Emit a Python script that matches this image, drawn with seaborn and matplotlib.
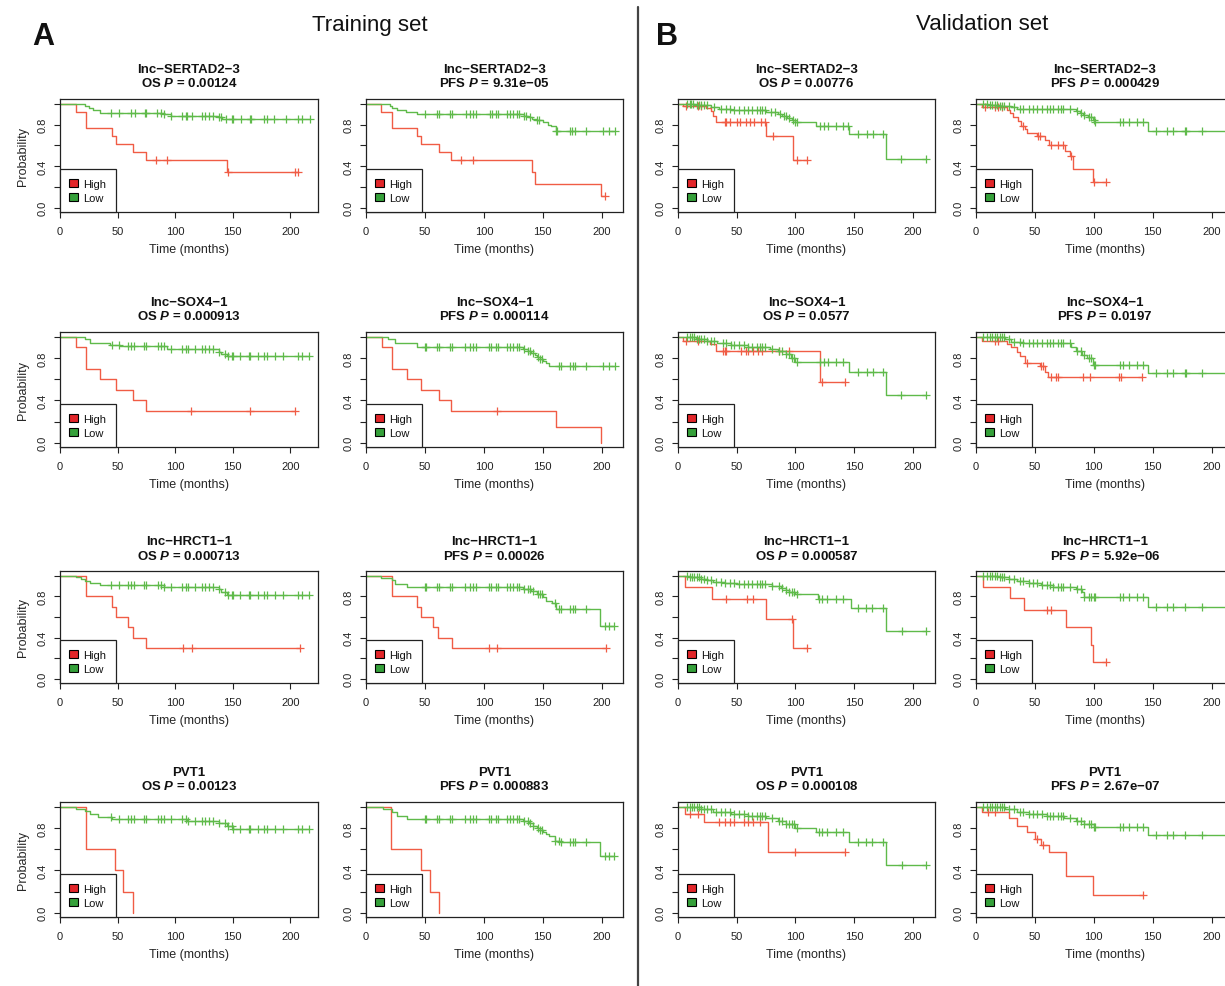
import numpy as np
import pandas as pd
import matplotlib
matplotlib.use("Agg")
import matplotlib.pyplot as plt
from matplotlib.patches import Patch
from matplotlib.lines import Line2D
import seaborn as sns

# ---------------- data ----------------
GENES = ["lnc\u2212SERTAD2\u22123", "lnc\u2212SOX4\u22121", "lnc\u2212HRCT1\u22121", "PVT1"]
ENDPOINTS = ["OS", "PFS", "OS", "PFS"]
PVALUES = [
    ["0.00124", "9.31e\u221205", "0.00776", "0.000429"],
    ["0.000913", "0.000114", "0.0577", "0.0197"],
    ["0.000713", "0.00026", "0.000587", "5.92e\u221206"],
    ["0.00123", "0.000883", "0.000108", "2.67e\u221207"],
]
X_TICKS = [0, 50, 100, 150, 200]
Y_TICKS = [0.0, 0.2, 0.4, 0.6, 0.8, 1.0]
Y_TICK_LABELS = ["0.0", "", "0.4", "", "0.8", ""]
GROUPS = ["High", "Low"]

# Row 1: lnc-SERTAD2-3
A1_HI_T = [14, 23, 45, 49, 63, 74.5, 145]
A1_HI_S = [0.923, 0.769, 0.692, 0.615, 0.538, 0.462, 0.346]
A1_HI_C = [83, 93, 146, 204, 207]
A1_LO_T = [22, 25, 29, 35, 90, 96, 138, 141]
A1_LO_S = [0.98, 0.96, 0.94, 0.91, 0.90, 0.885, 0.87, 0.85]
A1_LO_C = [44, 51, 62, 65, 74, 75, 84, 88, 90, 96, 106, 109, 110, 115, 123, 126, 129, 133,
           138, 140, 144, 149, 150, 157, 165, 166, 177, 180, 186, 196, 207, 210, 217]

A2_HI_T = [13, 22, 43.5, 46.5, 61.5, 72.5, 141, 143, 199]
A2_HI_S = [0.923, 0.769, 0.692, 0.615, 0.538, 0.462, 0.346, 0.231, 0.115]
A2_HI_C = [81, 90.5, 203]
A2_LO_T = [20, 22, 26, 34, 43, 134, 137, 141, 145, 150, 154, 157, 161]
A2_LO_S = [0.98, 0.96, 0.94, 0.92, 0.90, 0.885, 0.87, 0.855, 0.84, 0.82, 0.80, 0.785, 0.735]
A2_LO_C = [50, 60, 62, 71, 73, 85, 88, 90.5, 93, 105, 107, 110, 112, 120, 122, 124.5, 128, 130,
           134, 136, 139, 145, 147, 161, 162, 173, 175, 177, 187, 201, 206, 211]

B1_HI_T = [4, 24, 28, 30, 32.5, 75, 98]
B1_HI_S = [0.975, 0.955, 0.93, 0.88, 0.82, 0.69, 0.46]
B1_HI_C = [7, 17, 20, 40, 41, 44, 50, 53, 58, 61, 65, 71, 74, 81, 101, 110]
B1_LO_T = [15, 28, 35, 45, 75, 85, 89, 93, 97, 100, 118, 146, 177]
B1_LO_S = [0.985, 0.965, 0.95, 0.935, 0.92, 0.90, 0.88, 0.86, 0.84, 0.825, 0.785, 0.705, 0.465]
B1_LO_C = [8, 10, 11, 13, 16, 18, 20, 22, 25, 31, 37, 41, 44, 48, 52, 56, 60, 63, 67, 70, 72, 74,
           79, 83, 87, 90, 92, 95, 98, 100, 101, 121, 124, 128, 135, 141, 145, 153, 161, 166, 175,
           190, 211]

B2_HI_T = [5, 26, 29, 31.5, 36, 38.5, 41.5, 43, 52, 58.5, 62, 75.5, 80, 82, 99]
B2_HI_S = [0.97, 0.94, 0.91, 0.87, 0.83, 0.79, 0.755, 0.72, 0.69, 0.65, 0.60, 0.55, 0.50, 0.37, 0.25]
B2_HI_C = [8, 16, 19, 22, 40, 53, 54, 64, 70, 74, 81, 100, 110]
B2_LO_T = [10, 20, 30, 35, 85, 88, 91, 95, 99, 100.5, 146]
B2_LO_S = [0.985, 0.975, 0.965, 0.952, 0.93, 0.91, 0.89, 0.87, 0.845, 0.824, 0.735]
B2_LO_C = [6, 9, 12, 14, 16, 18, 20, 22, 24, 28, 32, 37, 40, 45, 48, 52, 56, 60, 63, 65, 70, 72,
           74, 80, 86, 89, 92, 96, 98, 100, 101, 122, 125, 130, 137, 142, 153, 162, 167, 177, 178,
           192, 215]

# Row 2: lnc-SOX4-1
A3_HI_T = [14, 23, 35, 49, 63, 74.5]
A3_HI_S = [0.9, 0.7, 0.6, 0.5, 0.4, 0.3]
A3_HI_C = [114, 165, 204]
A3_LO_T = [22, 26, 43, 52, 93, 138, 140, 145]
A3_LO_S = [0.98, 0.94, 0.925, 0.91, 0.885, 0.86, 0.84, 0.815]
A3_LO_C = [45, 51, 59, 62, 64, 73, 75, 85, 88, 90, 96, 106, 109, 111, 117, 123, 126, 129, 133,
           138, 143, 146, 149, 150, 156, 164, 165, 172, 177, 180, 187, 194, 207, 210, 216]

A4_HI_T = [13.3, 22, 34.5, 46.5, 61.5, 72.5, 161, 199.5]
A4_HI_S = [0.9, 0.7, 0.6, 0.5, 0.4, 0.3, 0.15, 0.0]
A4_HI_C = [111]
A4_LO_T = [19, 24.5, 43, 133.5, 137, 140, 143, 145, 148, 150, 153, 155]
A4_LO_S = [0.98, 0.94, 0.905, 0.885, 0.865, 0.85, 0.83, 0.81, 0.79, 0.77, 0.75, 0.728]
A4_LO_C = [50, 51, 60, 62, 71, 73, 84, 88, 90.5, 93, 104, 106, 110, 112, 120, 122, 124.5, 128,
           130, 134, 137, 139, 142, 146, 148, 149, 164, 165, 173, 176, 177, 187, 201, 206, 211]

B3_HI_T = [4.3, 27, 32.6, 120.6]
B3_HI_S = [0.96, 0.93, 0.865, 0.577]
B3_HI_C = [7, 17, 38, 40, 41, 54, 58, 60, 64, 68, 72, 86, 95, 123, 142]
B3_LO_T = [15, 25, 33, 45, 60, 78, 85, 92, 96, 100, 146, 177]
B3_LO_S = [0.98, 0.96, 0.94, 0.92, 0.90, 0.885, 0.87, 0.84, 0.80, 0.76, 0.67, 0.449]
B3_LO_C = [8, 10, 12, 14, 16, 18, 20, 22, 25, 28, 31, 38, 41, 45, 48, 52, 56, 60, 63, 67, 70, 72,
           74, 80, 86, 89, 92, 95, 97, 99, 101, 121, 124, 128, 135, 141, 153, 161, 166, 175, 190, 211]

B4_HI_T = [4.8, 26, 30, 34.5, 37, 41.6, 54, 58.6, 61]
B4_HI_S = [0.96, 0.93, 0.90, 0.86, 0.82, 0.756, 0.72, 0.67, 0.62]
B4_HI_C = [16, 19, 43, 55, 57, 64, 68, 70, 91, 97, 121, 123, 141]
B4_LO_T = [25, 30, 40, 81, 85, 89.7, 94, 99.6, 146]
B4_LO_S = [0.98, 0.955, 0.94, 0.90, 0.87, 0.83, 0.80, 0.737, 0.654]
B4_LO_C = [6, 9, 12, 14, 16, 18, 20, 22, 24, 28, 32, 37, 40, 45, 48, 52, 56, 60, 63, 65, 70, 72,
           74, 80, 86, 89, 92, 96, 98, 100, 101, 122, 125, 130, 137, 142, 153, 162, 167, 177, 178,
           192, 215]

# Row 3: lnc-HRCT1-1
A5_HI_T = [22.6, 45, 49, 58.8, 63, 74.5]
A5_HI_S = [0.8, 0.7, 0.6, 0.5, 0.4, 0.3]
A5_HI_C = [107, 114.5, 208.5]
A5_LO_T = [14, 18, 22, 26, 35, 90, 138, 140, 145]
A5_LO_S = [0.985, 0.97, 0.95, 0.93, 0.908, 0.89, 0.87, 0.845, 0.815]
A5_LO_C = [44, 51, 59, 62, 64, 73, 75, 85, 88, 90, 96, 106, 109, 111, 117, 123, 126, 129, 133,
           138, 143, 146, 149, 150, 156, 164, 165, 172, 177, 180, 187, 194, 207, 210, 216]

A6_HI_T = [21.8, 43.6, 46.4, 56.6, 61.4, 72.7]
A6_HI_S = [0.8, 0.7, 0.6, 0.5, 0.4, 0.3]
A6_HI_C = [104.7, 111, 203.7]
A6_LO_T = [13, 22, 24.6, 34.5, 133.5, 140, 145, 150, 153, 157.5, 161, 198.6]
A6_LO_S = [0.98, 0.96, 0.92, 0.89, 0.87, 0.85, 0.82, 0.79, 0.75, 0.735, 0.676, 0.508]
A6_LO_C = [50, 51, 60, 62, 71, 73, 84, 88, 90.5, 93, 104, 106, 110, 112, 120, 122, 124.5, 128,
           130, 134, 137, 139, 142, 146, 148, 149, 160, 164, 165, 173, 176, 177, 187, 203, 206, 210]

B5_HI_T = [5.7, 29, 75, 98.4]
B5_HI_S = [0.889, 0.771, 0.581, 0.295]
B5_HI_C = [41, 59, 64, 97, 110]
B5_LO_T = [10, 20, 25, 30, 40, 50, 80, 88, 92, 95, 100, 119, 147.5, 177]
B5_LO_S = [0.985, 0.97, 0.955, 0.94, 0.93, 0.922, 0.90, 0.88, 0.86, 0.84, 0.82, 0.775, 0.69, 0.46]
B5_LO_C = [8, 10, 12, 14, 16, 18, 20, 22, 25, 28, 32, 37, 40, 44, 48, 52, 56, 60, 63, 67, 70, 72,
           74, 80, 86, 89, 92, 95, 97, 99, 101, 120, 123, 127, 135, 141, 153, 160, 165, 175, 191, 211]

B6_HI_T = [6.2, 28.9, 41, 76, 97.3, 99]
B6_HI_S = [0.89, 0.78, 0.667, 0.50, 0.33, 0.165]
B6_HI_C = [60, 64, 110]
B6_LO_T = [20, 28, 35, 45, 55, 65, 85, 90, 92, 146]
B6_LO_S = [0.99, 0.97, 0.95, 0.93, 0.91, 0.89, 0.87, 0.84, 0.794, 0.698]
B6_LO_C = [6, 9, 12, 14, 16, 18, 20, 22, 24, 28, 32, 37, 40, 45, 48, 52, 56, 60, 63, 65, 70, 72,
           74, 80, 86, 89, 92, 96, 98, 100, 101, 122, 125, 130, 137, 142, 153, 162, 167, 177, 192, 215]

# Row 4: PVT1
A7_HI_T = [23, 48, 55, 63]
A7_HI_S = [0.6, 0.4, 0.2, 0.0]
A7_HI_C = []
A7_LO_T = [14, 22, 26, 33, 45, 110, 138, 145, 150]
A7_LO_S = [0.98, 0.96, 0.93, 0.90, 0.885, 0.87, 0.845, 0.815, 0.79]
A7_LO_C = [44, 51, 59, 62, 64, 73, 75, 85, 88, 90, 96, 106, 109, 111, 117, 123, 126, 129, 133,
           138, 143, 146, 149, 150, 156, 164, 165, 172, 177, 180, 187, 194, 207, 210, 216]

A8_HI_T = [21, 47, 54, 62]
A8_HI_S = [0.6, 0.4, 0.2, 0.0]
A8_HI_C = []
A8_LO_T = [14, 22, 26, 35, 133, 138, 142, 145, 148, 150, 153, 155, 160, 165, 198.6]
A8_LO_S = [0.98, 0.95, 0.91, 0.88, 0.865, 0.845, 0.82, 0.80, 0.78, 0.76, 0.74, 0.72, 0.68, 0.665, 0.54]
A8_LO_C = [50, 51, 60, 62, 71, 73, 84, 88, 90.5, 93, 104, 106, 110, 112, 120, 122, 124.5, 128,
           130, 134, 137, 139, 142, 146, 148, 149, 160, 164, 165, 173, 176, 177, 187, 203, 206, 210]

B7_HI_T = [6, 22, 76.6]
B7_HI_S = [0.93, 0.86, 0.575]
B7_HI_C = [10, 17, 35, 40, 44, 48, 56, 60, 64, 70, 100, 142]
B7_LO_T = [20, 30, 45, 60, 75, 85, 92, 100, 118, 146, 177]
B7_LO_S = [0.98, 0.955, 0.935, 0.915, 0.895, 0.87, 0.84, 0.80, 0.76, 0.67, 0.45]
B7_LO_C = [8, 10, 12, 14, 16, 18, 20, 22, 25, 28, 32, 37, 40, 44, 48, 52, 56, 60, 63, 67, 70, 72,
           74, 80, 86, 89, 92, 95, 97, 99, 101, 120, 123, 127, 135, 141, 153, 160, 165, 175, 191, 211]

B8_HI_T = [5, 28, 35, 43, 50, 55, 62, 76, 99]
B8_HI_S = [0.95, 0.89, 0.82, 0.76, 0.70, 0.64, 0.57, 0.35, 0.17]
B8_HI_C = [10, 16, 52, 57, 142]
B8_LO_T = [25, 35, 45, 60, 75, 85, 92, 100, 146]
B8_LO_S = [0.975, 0.955, 0.935, 0.915, 0.895, 0.87, 0.84, 0.81, 0.735]
B8_LO_C = [6, 9, 12, 14, 16, 18, 20, 22, 24, 28, 32, 37, 40, 45, 48, 52, 56, 60, 63, 65, 70, 72,
           74, 80, 86, 89, 92, 96, 98, 100, 101, 122, 125, 130, 137, 142, 153, 162, 167, 177, 192, 215]

# table of panels built from the arrays above: [row][col] -> (high, low)
PANELS = [
    [((A1_HI_T, A1_HI_S, A1_HI_C), (A1_LO_T, A1_LO_S, A1_LO_C)),
     ((A2_HI_T, A2_HI_S, A2_HI_C), (A2_LO_T, A2_LO_S, A2_LO_C)),
     ((B1_HI_T, B1_HI_S, B1_HI_C), (B1_LO_T, B1_LO_S, B1_LO_C)),
     ((B2_HI_T, B2_HI_S, B2_HI_C), (B2_LO_T, B2_LO_S, B2_LO_C))],
    [((A3_HI_T, A3_HI_S, A3_HI_C), (A3_LO_T, A3_LO_S, A3_LO_C)),
     ((A4_HI_T, A4_HI_S, A4_HI_C), (A4_LO_T, A4_LO_S, A4_LO_C)),
     ((B3_HI_T, B3_HI_S, B3_HI_C), (B3_LO_T, B3_LO_S, B3_LO_C)),
     ((B4_HI_T, B4_HI_S, B4_HI_C), (B4_LO_T, B4_LO_S, B4_LO_C))],
    [((A5_HI_T, A5_HI_S, A5_HI_C), (A5_LO_T, A5_LO_S, A5_LO_C)),
     ((A6_HI_T, A6_HI_S, A6_HI_C), (A6_LO_T, A6_LO_S, A6_LO_C)),
     ((B5_HI_T, B5_HI_S, B5_HI_C), (B5_LO_T, B5_LO_S, B5_LO_C)),
     ((B6_HI_T, B6_HI_S, B6_HI_C), (B6_LO_T, B6_LO_S, B6_LO_C))],
    [((A7_HI_T, A7_HI_S, A7_HI_C), (A7_LO_T, A7_LO_S, A7_LO_C)),
     ((A8_HI_T, A8_HI_S, A8_HI_C), (A8_LO_T, A8_LO_S, A8_LO_C)),
     ((B7_HI_T, B7_HI_S, B7_HI_C), (B7_LO_T, B7_LO_S, B7_LO_C)),
     ((B8_HI_T, B8_HI_S, B8_HI_C), (B8_LO_T, B8_LO_S, B8_LO_C))],
]

# ---------------- style ----------------
W, H, DPI = 1225, 987, 100
sns.set_style("ticks")
plt.rcParams.update({
    "font.family": ["Liberation Sans", "DejaVu Sans"],
    "mathtext.fontset": "custom",
    "mathtext.it": "Liberation Sans:italic:bold",
    "mathtext.rm": "Liberation Sans:bold",
    "mathtext.bf": "Liberation Sans:bold",
    "axes.edgecolor": "#222222",
    "axes.linewidth": 0.9,
    "xtick.color": "#222222",
    "ytick.color": "#222222",
    "xtick.major.size": 4,
    "ytick.major.size": 4,
    "xtick.major.width": 0.8,
    "ytick.major.width": 0.8,
    "text.color": "#111111",
})

LINE_COLORS = {"High": "#F05C45", "Low": "#5FBA4A"}
FILL_COLORS = {"High": "#E2262A", "Low": "#35A03A"}

COL_LEFT = [60, 366, 678, 976]
COL_WIDTH = [258, 257, 257, 258]
COL_XMAX = [224, 218, 219, 219]
ROW_TOP = [100, 333, 572, 803]
ROW_HEIGHT = [113, 115, 112, 115]

fig = plt.figure(figsize=(W / DPI, H / DPI), dpi=DPI)
fig.patch.set_facecolor("white")


def surv_at(t, times, surv):
    idx = np.searchsorted(np.asarray(times, float), t, side="right") - 1
    return 1.0 if idx < 0 else surv[idx]


for r in range(4):
    for c in range(4):
        l, w = COL_LEFT[c], COL_WIDTH[c]
        t, h = ROW_TOP[r], ROW_HEIGHT[r]
        ax = fig.add_axes([l / W, 1 - (t + h) / H, w / W, h / H])
        for g, (T, S, C) in zip(GROUPS, PANELS[r][c]):
            end = max(list(T) + list(C))
            xs = [0.0] + list(T) + [end]
            ys = [1.0] + list(S) + [S[-1]]
            df = pd.DataFrame({"time": xs, "surv": ys})
            sns.lineplot(data=df, x="time", y="surv", ax=ax, color=LINE_COLORS[g],
                         lw=1.0, drawstyle="steps-post", estimator=None, sort=False,
                         legend=False)
            if len(C):
                cdf = pd.DataFrame({"time": C, "surv": [surv_at(x, T, S) for x in C]})
                sns.scatterplot(data=cdf, x="time", y="surv", ax=ax, marker="+", s=30,
                                color=LINE_COLORS[g], linewidth=0.9, legend=False, zorder=3)
        ax.set_xlim(0, COL_XMAX[c])
        ax.set_ylim(-0.04, 1.045)
        ax.set_xticks(X_TICKS)
        ax.set_xticklabels([str(v) for v in X_TICKS], fontsize=8)
        ax.set_yticks(Y_TICKS)
        ax.set_yticklabels(Y_TICK_LABELS, fontsize=8, rotation=90, va="center")
        ax.tick_params(axis="x", pad=6)
        ax.tick_params(axis="y", pad=5)
        for sp in ax.spines.values():
            sp.set_visible(True)
        ax.set_xlabel("Time (months)", fontsize=9, labelpad=5)
        ax.set_ylabel("Probability" if c == 0 else "", fontsize=9, labelpad=6)
        ax.set_title(f"{GENES[r]}\n{ENDPOINTS[c]} $P$ = {PVALUES[r][c]}",
                     fontsize=9.5, fontweight="bold", pad=9, linespacing=1.15)
        handles = [Patch(facecolor=FILL_COLORS[g], edgecolor="black", linewidth=0.8, label=g)
                   for g in GROUPS]
        leg = ax.legend(handles=handles, loc="lower left", borderaxespad=0, frameon=True,
                        fancybox=False, edgecolor="#222222", fontsize=8, handlelength=0.75,
                        handleheight=0.75, handletextpad=0.5, borderpad=0.85, labelspacing=0.35)
        leg.get_frame().set_linewidth(0.9)
        leg.get_frame().set_alpha(1)

fig.text(32 / W, 1 - 37 / H, "A", fontsize=22, fontweight="bold", ha="left", va="center")
fig.text(656 / W, 1 - 37 / H, "B", fontsize=22, fontweight="bold", ha="left", va="center")
fig.text(370 / W, 1 - 26 / H, "Training set", fontsize=16, ha="center", va="center")
fig.text(982 / W, 1 - 24 / H, "Validation set", fontsize=16, ha="center", va="center")
fig.add_artist(Line2D([638 / W, 638 / W], [0, 1 - 8 / H], color="#444444", lw=1.6))

fig.savefig("out.png", dpi=DPI, facecolor="white")
